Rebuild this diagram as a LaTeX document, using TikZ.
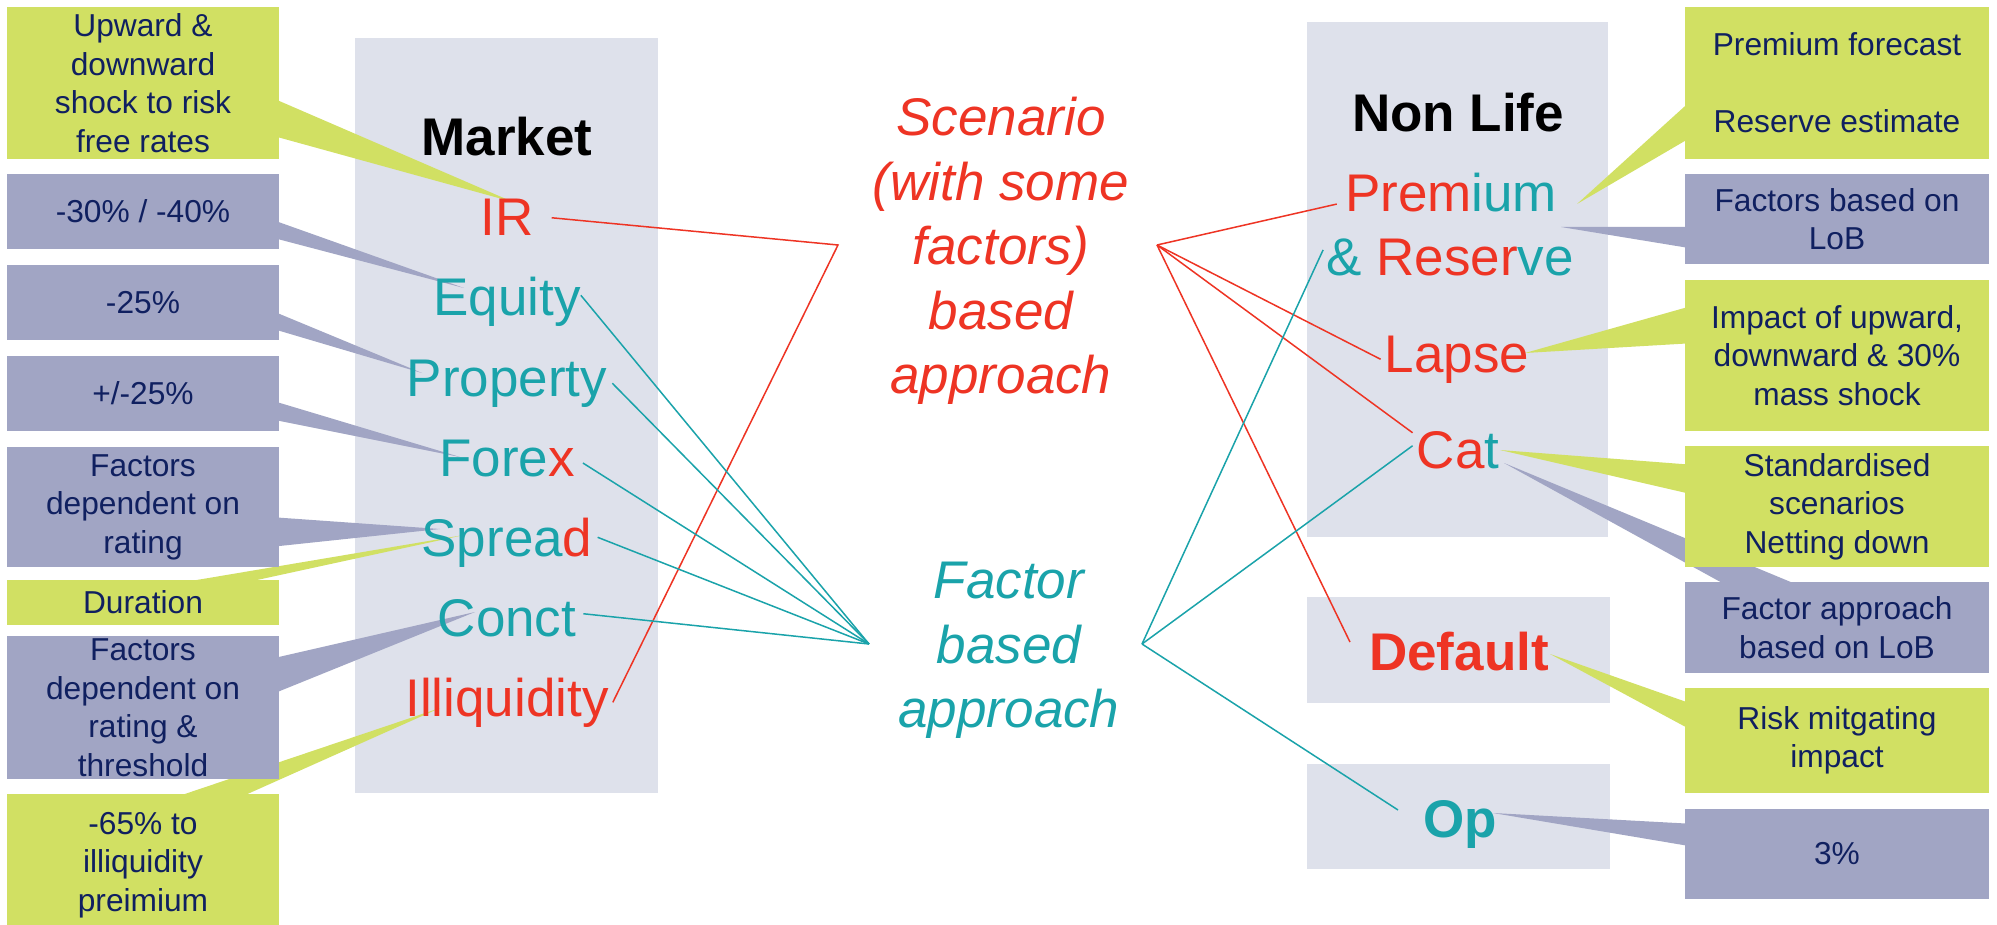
\documentclass[tikz,border=0pt]{standalone}
\usepackage{fontspec}
\setmainfont{Liberation Sans}
\definecolor{cgreen}{RGB}{209,224,99}
\definecolor{cpurple}{RGB}{161,165,196}
\definecolor{cgray}{RGB}{222,225,235}
\definecolor{cteal}{RGB}{26,163,170}
\definecolor{cred}{RGB}{238,52,36}
\definecolor{cnavy}{RGB}{16,32,96}
\begin{document}
\begin{tikzpicture}[x=1pt,y=-1pt,
  gbox/.style={rectangle, fill=cgreen, inner sep=0pt, text=cnavy, align=center,
    font=\fontsize{31.7}{38.5}\selectfont},
  pbox/.style={gbox, fill=cpurple},
  lbox/.style={minimum width=272pt},
  rbox/.style={minimum width=304pt},
  item/.style={inner sep=0pt, anchor=base, font=\fontsize{53}{64}\selectfont},
  head/.style={item, font=\fontsize{53}{64}\selectfont\bfseries},
  approach/.style={inner sep=0pt, align=center, font=\fontsize{53}{64.5}\selectfont\itshape},
  sline/.style={draw=cred, line width=1.5pt},
  fline/.style={draw=cteal, line width=1.5pt},
  gwedge/.style={fill=cgreen},
  pwedge/.style={fill=cpurple},
  panel/.style={fill=cgray}]
\useasboundingbox (0,0) rectangle (1997,925);
\fill[white] (0,0) rectangle (1997,925);
\clip (0,0) rectangle (1997,925);
% panels
\fill[panel] (355,38) rectangle (658,793);
\fill[panel] (1307,22) rectangle (1608,537);
\fill[panel] (1307,597) rectangle (1610,703);
\fill[panel] (1307,764) rectangle (1610,869);
% wedges left
\fill[gwedge] (270,97) -- (513,202) -- (270,135) -- cycle;
\fill[pwedge] (270,219) -- (464,288) -- (270,237) -- cycle;
\fill[pwedge] (270,310) -- (422,373) -- (270,328) -- cycle;
\fill[pwedge] (270,400) -- (460,457) -- (270,419) -- cycle;
\fill[pwedge] (270,517) -- (440,529) -- (270,547) -- cycle;
\fill[gwedge] (167,585) -- (464,535) -- (234,585) -- cycle;
\fill[pwedge] (270,659) -- (475,612) -- (270,695) -- cycle;
\fill[gwedge] (167,800) -- (440,708) -- (234,800) -- cycle;
% wedges right
\fill[gwedge] (1695,97) -- (1577,204) -- (1695,135) -- cycle;
\fill[pwedge] (1695,227) -- (1561,227) -- (1695,249) -- cycle;
\fill[gwedge] (1695,305) -- (1525,353) -- (1695,343) -- cycle;
\fill[gwedge] (1695,465) -- (1500,450) -- (1695,495) -- cycle;
\fill[pwedge] (1735,590) -- (1504,463) -- (1810,590) -- cycle;
\fill[gwedge] (1695,705) -- (1550,654) -- (1695,732) -- cycle;
\fill[pwedge] (1695,824) -- (1493,813) -- (1695,847) -- cycle;
% callout boxes left
\node[gbox, lbox, minimum height=152pt] (l1) at (143,83) {Upward \&\\downward\\shock to risk\\free rates};
\node[pbox, lbox, minimum height=75pt] (l2) at (143,211.5) {-30\% / -40\%};
\node[pbox, lbox, minimum height=75pt] (l3) at (143,302.5) {-25\%};
\node[pbox, lbox, minimum height=75pt] (l4) at (143,393.5) {+/-25\%};
\node[pbox, lbox, minimum height=120pt] (l5) at (143,507) {Factors\\dependent on\\rating};
\node[gbox, lbox, minimum height=45pt] (l6) at (143,602.5) {Duration};
\node[pbox, lbox, minimum height=143pt] (l7) at (143,707.5) {Factors\\dependent on\\rating \&\\threshold};
\node[gbox, lbox, minimum height=142pt] (l8) at (143,865) {-65\% to\\illiquidity\\preimium};
% callout boxes right
\node[gbox, rbox, minimum height=152pt] (r1) at (1837,83) {Premium forecast\\[38.5pt]Reserve estimate};
\node[pbox, rbox, minimum height=90pt] (r2) at (1837,219) {Factors based on\\LoB};
\node[gbox, rbox, minimum height=151pt] (r3) at (1837,355.5) {Impact of upward,\\downward \& 30\%\\mass shock};
\node[gbox, rbox, minimum height=121pt] (r4) at (1837,506.5) {Standardised\\scenarios\\Netting down};
\node[pbox, rbox, minimum height=91pt] (r5) at (1837,627.5) {Factor approach\\based on LoB};
\node[gbox, rbox, minimum height=105pt] (r6) at (1837,740.5) {Risk mitgating\\impact};
\node[pbox, rbox, minimum height=90pt] (r7) at (1837,854) {3\%};
% titles and items
\node[head, text=black] (mk) at (507,156) {Market};
\node[head, text=black] (nl) at (1458,132) {Non Life};
\node[item, text=cred] (ir) at (507,236) {IR};
\node[item, text=cteal] (eq) at (507,316) {Equity};
\node[item, text=cteal] (pr) at (507,396) {Property};
\node[item, text=cteal] (fx) at (507,476) {Fore\textcolor{cred}{x}};
\node[item, text=cteal] (sp) at (507,556) {Sprea\textcolor{cred}{d}};
\node[item, text=cteal] (co) at (507,636) {Conct};
\node[item, text=cred] (il) at (507,716) {Illiquidity};
\node[item, text=cred] (pm) at (1451,212) {Prem\textcolor{cteal}{ium}};
\node[item, text=cred] (rs) at (1450,276) {\textcolor{cteal}{\&} Reser\textcolor{cteal}{ve}};
\node[item, text=cred] (la) at (1457,372) {Lapse};
\node[item, text=cred] (ca) at (1458,468) {Ca\textcolor{cteal}{t}};
\node[head, text=cred] (df) at (1459,670) {Default};
\node[head, text=cteal] (op) at (1460,837) {Op};
% approaches
\node[approach, text=cred] (sc) at (1001,251) {Scenario\\(with some\\factors)\\based\\approach};
\node[approach, text=cteal] (fa) at (1009,650.5) {Factor\\based\\approach};
\coordinate (scL) at (838,245);
\coordinate (scR) at (1157,245);
\coordinate (faL) at (869,644);
\coordinate (faR) at (1142,644);
% connectors left
\draw[sline] ([xshift=18pt]ir.east) -- (scL) -- ([xshift=4pt]il.east);
\draw[fline] ([yshift=7pt]eq.east) -- (faL);
\draw[fline] ([xshift=5pt]pr.east) -- (faL);
\draw[fline] ([xshift=8pt,yshift=-5pt]fx.east) -- (faL);
\draw[fline] ([xshift=5pt,yshift=5pt]sp.east) -- (faL);
\draw[fline] ([xshift=7pt,yshift=4pt]co.east) -- (faL);
% connectors right
\draw[sline] (scR) -- ([xshift=-8pt,yshift=-11pt]pm.west);
\draw[sline] (scR) -- ([xshift=-4pt]la.west);
\draw[sline] (scR) -- ([xshift=-4pt,yshift=17pt]ca.west);
\draw[sline] (scR) -- ([xshift=-19pt,yshift=9pt]df.west);
\draw[fline] (faR) -- ([xshift=-3pt,yshift=8pt]rs.west);
\draw[fline] (faR) -- ([xshift=-4pt,yshift=4pt]ca.west);
\draw[fline] (faR) -- ([xshift=-25pt,yshift=14pt]op.west);
\end{tikzpicture}
\end{document}
